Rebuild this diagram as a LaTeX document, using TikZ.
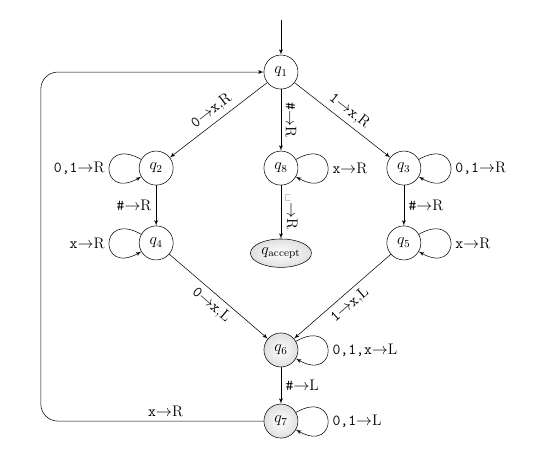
\documentclass[tikz,border=0pt]{standalone}
\usepackage{amsmath, amssymb}
\usepackage{tikz}
\usetikzlibrary{shapes,arrows}
\tikzstyle{state} = [circle, draw, minimum size=0.9cm, inner sep=1pt]
\tikzstyle{halt} = [state, shading=radial, inner color=white, outer color=gray!25]
\tikzstyle{accept} = [ellipse, draw, shading=radial, inner color=white,
    outer color=gray!25, inner sep=1.5pt, minimum height=0.75cm]
\tikzstyle{line} = [draw, -latex']
\tikzstyle{every loop} = [-latex', min distance=13mm, looseness=1]
\newcommand{\tsym}[1]{\texttt{#1}}
\newcommand{\goes}{$\rightarrow$}

\begin{document}
\begin{tikzpicture}[node distance = 2.54cm, auto, font=\fontsize{11.5}{13.8}\selectfont]
    \useasboundingbox (-7.43,1.905) rectangle (6.93,-10.26);
    % Place nodes
    % Top
    \node [state] (q1) {$q_1$};
    \coordinate [above of=q1, node distance=1.38cm] (start);
    \coordinate [left of=q1, node distance=6.35cm] (back);
    
    % Branches
    \node [state, below of=q1] (q8) {$q_8$};
    \node [state, left of=q8, node distance=3.3cm] (q2) {$q_2$};
    \node [state, right of=q8, node distance=3.25cm] (q3) {$q_3$};
    \node [state, below of=q2, node distance=1.98cm] (q4) {$q_4$};
    \node [state, below of=q3, node distance=1.98cm] (q5) {$q_5$};
    \node [accept, below of=q8, node distance=2.25cm] (qa) {$q_{\text{accept}}$};
    
    % Return
    \node [halt, below of=qa, node distance=2.56cm] (q6) {$q_6$};
    \node [halt, below of=q6, node distance=1.88cm] (q7) {$q_7$};
    
    % Draw edges
    \path [line] (start) -- (q1);
    \path [line] (q1) -- node[above, sloped] {\tsym{0}\goes\tsym{x},R} (q2);
    \path [line] (q1) -- node[above, sloped] {\tsym{\#}\goes R} (q8);
    \path [line] (q1) -- node[above, sloped] {\tsym{1}\goes\tsym{x},R} (q3);
    \path [line] (q2) -- node[left] {\tsym{\#}\goes R} (q4);
    \path [line] (q8) -- node[above, sloped] {\textvisiblespace\goes R} (qa);
    \path [line] (q3) -- node[right] {\tsym{\#}\goes R} (q5);
    \path [line] (q4) -- node[below, sloped] {\tsym{0}\goes\tsym{x},L} (q6);
    \path [line] (q5) -- node[below, sloped] {\tsym{1}\goes\tsym{x},L} (q6);
    \path [line] (q6) -- node[right] {\tsym{\#}\goes L} (q7);
    \draw [-latex', rounded corners=0.45cm] (q7) -| node[above, pos=0.22] {\tsym{x}\goes R} (back) -- (q1);
    
    % Loops
    \path [line] (q2) edge [out=150, in=-150, loop] node[left] {\tsym{0,1}\goes R} ();
    \path [line] (q4) edge [out=150, in=-150, loop] node[left] {\tsym{x}\goes R} ();
    \path [line] (q8) edge [out=30, in=-30, loop] node[right] {\tsym{x}\goes R} ();
    \path [line] (q3) edge [out=30, in=-30, loop] node[right] {\tsym{0,1}\goes R} ();
    \path [line] (q5) edge [out=30, in=-30, loop] node[right] {\tsym{x}\goes R} ();
    \path [line] (q6) edge [out=30, in=-30, loop] node[right] {\tsym{0,1,x}\goes L} ();
    \path [line] (q7) edge [out=30, in=-30, loop] node[right] {\tsym{0,1}\goes L} ();

\end{tikzpicture}
\end{document}
